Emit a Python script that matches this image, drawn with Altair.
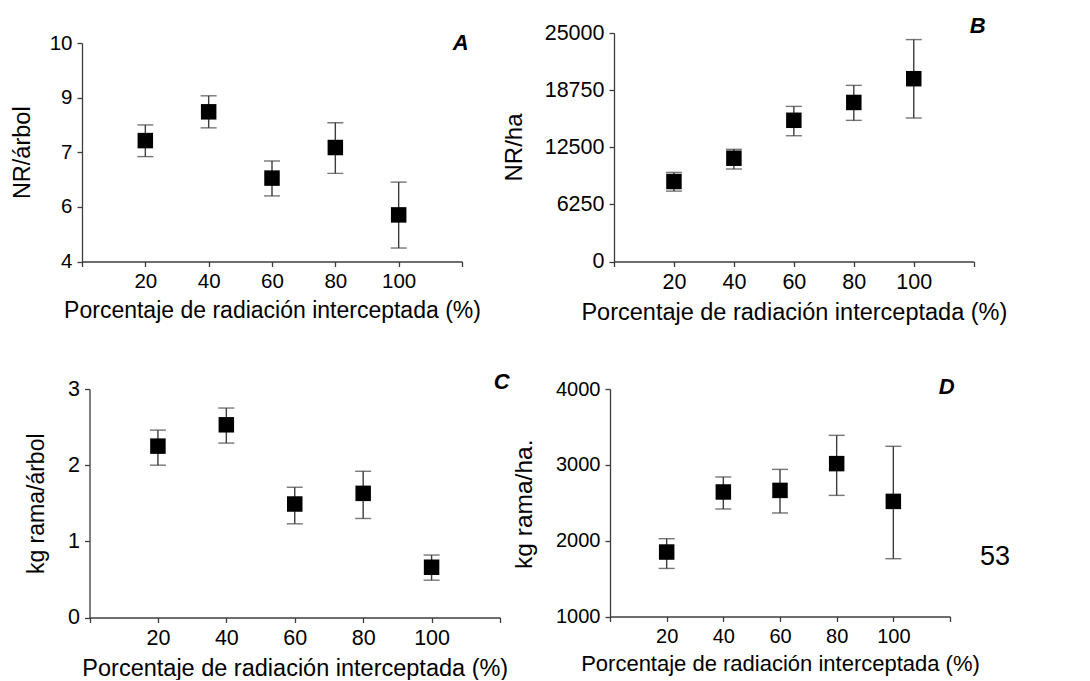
import altair as alt
import pandas as pd

# ---------------- data ----------------
radiacion = [20, 40, 60, 80, 100]

# A: NR/árbol
a_mean = [7.32, 8.11, 6.29, 7.13, 5.28]
a_lo = [6.88, 7.67, 5.80, 6.42, 4.37]
a_hi = [7.75, 8.55, 6.76, 7.81, 6.18]

# B: NR/ha
b_mean = [8750, 11300, 15450, 17400, 20000]
b_lo = [7700, 10120, 13760, 15440, 15700]
b_hi = [9750, 12270, 16970, 19270, 24280]

# C: kg rama/árbol
c_mean = [2.25, 2.53, 1.49, 1.63, 0.66]
c_lo = [2.00, 2.29, 1.23, 1.30, 0.49]
c_hi = [2.46, 2.75, 1.71, 1.92, 0.82]

# D: kg rama/ha.
d_mean = [1850, 2642, 2663, 3016, 2518]
d_lo = [1634, 2418, 2365, 2597, 1762]
d_hi = [2026, 2840, 2940, 3389, 3244]

x_ticks = [0, 20, 40, 60, 80, 100, 120]
a_ticks = [4, 5.5, 7, 8.5, 10]
b_ticks = [0, 6250, 12500, 18750, 25000]
c_ticks = [0, 1, 2, 3]
d_ticks = [1000, 2000, 3000, 4000]

x_title = "Porcentaje de radiación interceptada (%)"
FONT = "Liberation Sans"
AXC = "#3c3c3c"


def txt(s, x, y, size, angle=0, bold=False, baseline="middle"):
    kw = dict(font=FONT, fontSize=size, color="black", align="center", baseline=baseline)
    if bold:
        kw.update(fontWeight="bold", fontStyle="italic")
    if angle:
        kw.update(angle=angle)
    return alt.Chart(pd.DataFrame({"t": [s]})).mark_text(**kw).encode(
        text="t:N", x=alt.value(x), y=alt.value(y))


def panel(mean, lo, hi, ydom, yticks, yfmt, ytitle, W, H, frame_box,
          lab_fs, xt_fs, yt_fs, ytp, xrange=None, yrange=None, yoffset=0, extras=()):
    df = pd.DataFrame({"x": radiacion, "mean": mean, "lo": lo, "hi": hi})
    xaxis = alt.Axis(values=x_ticks, grid=False, title=x_title,
                     labelExpr="datum.value == 0 || datum.value == 120 ? '' : datum.label",
                     labelFontSize=lab_fs, titleFontSize=xt_fs, labelPadding=5,
                     titlePadding=7, labelFlush=False, labelOverlap=False)
    yaxis = alt.Axis(values=yticks, grid=False, title=ytitle, format=yfmt,
                     labelFontSize=lab_fs, titleFontSize=yt_fs, labelPadding=5,
                     titlePadding=ytp, labelOverlap=False, offset=yoffset)
    xs = alt.Scale(domain=[0, 120], nice=False, zero=False,
                   range=xrange if xrange else [0, W])
    ys = alt.Scale(domain=ydom, nice=False, zero=False,
                   range=yrange if yrange else [H, 0])
    base = alt.Chart(df)
    X = alt.X("x:Q", scale=xs, axis=xaxis)

    x1, x2, y1, y2 = frame_box
    frame = alt.Chart(pd.DataFrame({"d": [0]})).mark_rect(opacity=0).encode(
        x=alt.value(x1), x2=alt.value(x2), y=alt.value(y1), y2=alt.value(y2))
    rule = base.mark_rule(color=AXC, strokeWidth=1.4).encode(
        x=X, y=alt.Y("lo:Q", scale=ys, axis=yaxis), y2="hi:Q")
    cap_lo = base.mark_tick(orient="horizontal", size=16, thickness=1.4, color=AXC).encode(
        x=X, y=alt.Y("lo:Q", scale=ys, axis=yaxis))
    cap_hi = base.mark_tick(orient="horizontal", size=16, thickness=1.4, color=AXC).encode(
        x=X, y=alt.Y("hi:Q", scale=ys, axis=yaxis))
    pts = base.mark_point(shape="square", filled=True, size=240, color="black", opacity=1).encode(
        x=X, y=alt.Y("mean:Q", scale=ys, axis=yaxis))
    layers = [frame, rule, cap_lo, cap_hi, pts] + list(extras)
    return alt.layer(*layers).properties(width=W, height=H)


# panel A (origin at its plot left, row top shared with B)
pA = panel(a_mean, a_lo, a_hi, [4, 10], a_ticks, ".0f", "NR/árbol",
           380, 228.5, (-74, 458, -25, 298), 20.5, 23, 23.5, 15,
           yrange=[228.5, 10],
           extras=[txt("A", 378.7, 9.5, 22, bold=True),
                   txt("NR/ha", 439.7, 114.5, 24, angle=270, baseline="alphabetic")])
pB = panel(b_mean, b_lo, b_hi, [0, 25000], b_ticks, "d", None,
           359.7, 228.5, (-73.3, 385, -25, 298), 21.5, 23.5, 24, 14,
           extras=[txt("B", 363.7, -7, 22, bold=True)])
pC = panel(c_mean, c_lo, c_hi, [0, 3], c_ticks, "d", "kg rama/árbol",
           418, 228.5, (-74, 458, -58, 240), 21.5, 23.5, 23, 19,
           xrange=[7.5, 418], yoffset=-7.5,
           extras=[txt("C", 419.7, -7.3, 22, bold=True),
                   txt("kg rama/ha.", 449.6, 115.2, 24.5, angle=270, baseline="alphabetic")])
pD = panel(d_mean, d_lo, d_hi, [1000, 4000], d_ticks, "d", None,
           340, 227.5, (-69.3, 415, -58, 238), 20, 22, 24.5, 16.5,
           extras=[txt("D", 336.7, -2.3, 22, bold=True),
                   txt("53", 385, 167.7, 27)])

chart = alt.concat(pA, pB, pC, pD, columns=2, spacing=0, align="none", bounds="full").properties(
    padding=0, background="white"
).configure_view(stroke=None).configure_axis(
    domainColor=AXC, domainWidth=1.3, tickColor=AXC, tickWidth=1.3, tickSize=5,
    labelFont=FONT, titleFont=FONT, labelColor="black", titleColor="black",
    titleFontWeight="normal"
)

chart.save("out.html", embed_options={"renderer": "svg", "actions": False})
